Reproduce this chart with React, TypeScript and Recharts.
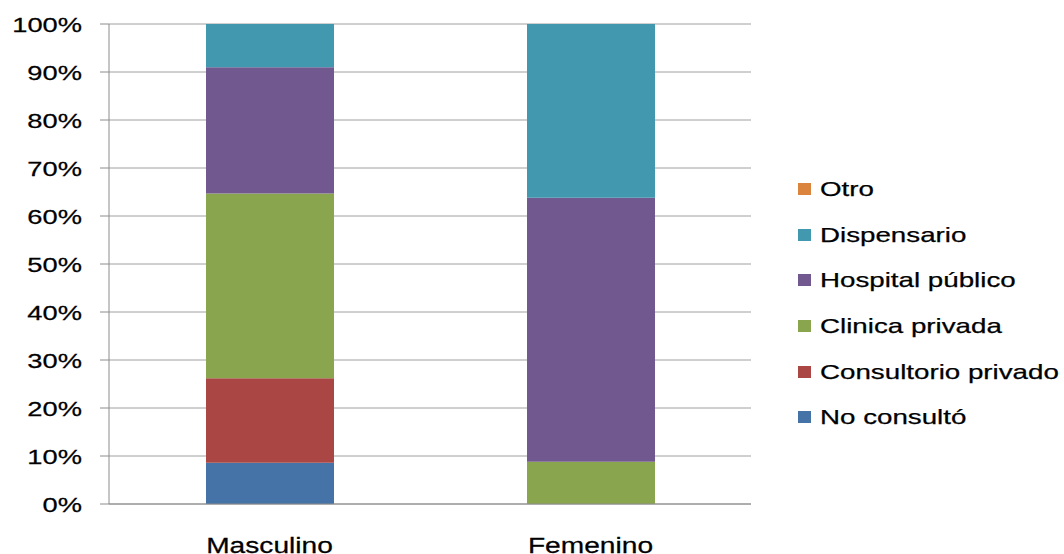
import React from 'react';
import { BarChart, Bar, XAxis, YAxis, CartesianGrid } from 'recharts';

const categories = ['Masculino', 'Femenino'];
const seriesNames = ['No consultó', 'Consultorio privado', 'Clinica privada', 'Hospital público', 'Dispensario', 'Otro'];
const noConsulto = [8.6, 0];
const consultorioPrivado = [17.6, 0];
const clinicaPrivada = [38.5, 8.8];
const hospitalPublico = [26.3, 55.0];
const dispensario = [9.0, 36.2];
const otro = [0, 0];
const seriesColors = ['#4572A7', '#AA4643', '#89A54E', '#71588F', '#4198AF', '#DB843D'];
const yTicks = [0, 10, 20, 30, 40, 50, 60, 70, 80, 90, 100];

const seriesValues = [noConsulto, consultorioPrivado, clinicaPrivada, hospitalPublico, dispensario, otro];
const data = categories.map((c, i) => {
  const row: Record<string, any> = { name: c };
  seriesValues.forEach((vals, k) => {
    row['s' + k] = vals[i];
  });
  return row;
});

const FONT = '"Liberation Sans", Arial, sans-serif';
const GRID = '#A0A0A0';
const AXIS = '#8C8C8C';

const YTick = (props: any) => {
  const { y, payload } = props;
  return (
    <g transform={`translate(82,${y})`}>
      <text transform="scale(1.3,1)" textAnchor="end" dy="0.36em" fontSize={21} fontFamily={FONT} fill="#000" stroke="#000" strokeWidth={0.25}>
        {payload.value + '%'}
      </text>
    </g>
  );
};

const XTick = (props: any) => {
  const { x, payload } = props;
  return (
    <g transform={`translate(${x},553)`}>
      <text transform="scale(1.28,1)" textAnchor="middle" fontSize={22} fontFamily={FONT} fill="#000" stroke="#000" strokeWidth={0.25}>
        {payload.value}
      </text>
    </g>
  );
};

export default function App() {
  const legendItems = seriesNames.map((n, i) => ({ name: n, color: seriesColors[i] })).reverse();
  return (
    <div style={{ position: 'absolute', left: 0, top: 0, width: 1064, height: 554, background: '#fff', overflow: 'hidden' }}>
      <BarChart
        width={1064}
        height={554}
        data={data}
        margin={{ top: 24, right: 313, bottom: 0, left: 0 }}
        barCategoryGap="30%"
      >
        <CartesianGrid xAxisId="cat" vertical={false} stroke={GRID} strokeWidth={1} />
        <XAxis
          xAxisId="num"
          type="number"
          domain={[0, 2]}
          ticks={[0, 1, 2]}
          axisLine={false}
          tick={false}
          tickSize={9}
          tickLine={{ stroke: AXIS }}
          height={0}
          allowDataOverflow
        />
        <XAxis
          xAxisId="cat"
          dataKey="name"
          axisLine={{ stroke: AXIS }}
          tickLine={false}
          tick={<XTick />}
          height={50}
          interval={0}
        />
        <YAxis
          type="number"
          domain={[0, 100]}
          ticks={yTicks}
          interval={0}
          width={109}
          tickSize={9}
          axisLine={{ stroke: AXIS }}
          tickLine={{ stroke: AXIS }}
          tick={<YTick />}
        />
        {seriesNames.map((n, k) => (
          <Bar
            key={n}
            xAxisId="cat"
            dataKey={'s' + k}
            name={n}
            stackId="a"
            fill={seriesColors[k]}
            barSize={128}
            isAnimationActive={false}
          />
        ))}
      </BarChart>
      <div style={{ position: 'absolute', left: 798, top: 166, width: 266, fontFamily: FONT }}>
        {legendItems.map((it) => (
          <div key={it.name} style={{ height: 45.7, display: 'flex', alignItems: 'center', whiteSpace: 'nowrap' }}>
            <span style={{ display: 'inline-block', width: 13, height: 12, background: it.color, marginRight: 9, flex: 'none' }} />
            <span style={{ display: 'inline-block', fontSize: 21, color: '#000', transform: 'scaleX(1.32)', transformOrigin: 'left center', WebkitTextStroke: '0.25px #000' }}>
              {it.name}
            </span>
          </div>
        ))}
      </div>
    </div>
  );
}
